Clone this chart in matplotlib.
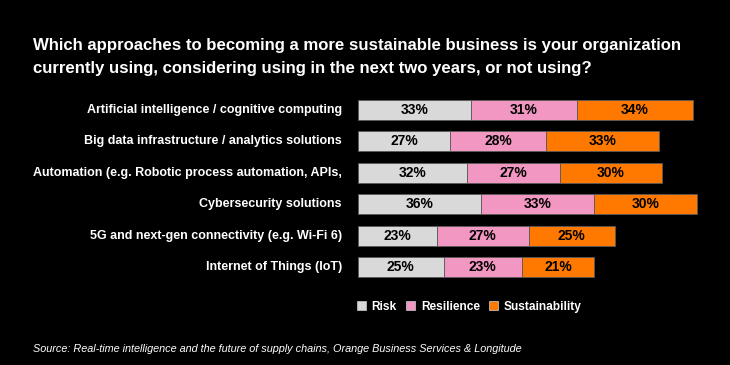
import matplotlib
matplotlib.use("Agg")
import matplotlib.pyplot as plt
import matplotlib.patches as mpatches
from matplotlib import font_manager

# data
categories = [
    "Artificial intelligence / cognitive computing",
    "Big data infrastructure / analytics solutions",
    "Automation (e.g. Robotic process automation, APIs,",
    "Cybersecurity solutions",
    "5G and next-gen connectivity (e.g. Wi-Fi 6)",
    "Internet of Things (IoT)",
]
risk = [33, 27, 32, 36, 23, 25]
resilience = [31, 28, 27, 33, 27, 23]
sustainability = [34, 33, 30, 30, 25, 21]
series_names = ["Risk", "Resilience", "Sustainability"]
colors = ["#d9d9d9", "#f297c1", "#ff7900"]

title = ("Which approaches to becoming a more sustainable business is your organization\n"
         "currently using, considering using in the next two years, or not using?")
source = ("Source: Real-time intelligence and the future of supply chains, "
          "Orange Business Services & Longitude")

names = {f.name for f in font_manager.fontManager.ttflist}
base = "Liberation Sans" if "Liberation Sans" in names else "DejaVu Sans"
plt.rcParams["font.family"] = [base, "DejaVu Sans"]

W, H = 730, 365
fig = plt.figure(figsize=(W / 100, H / 100), dpi=100, facecolor="black")
ax = fig.add_axes([358 / W, 1 - 283 / H, 342 / W, 189 / H])
ax.set_facecolor("black")

y = list(range(len(categories)))
left = [0] * len(categories)
for vals, col in zip([risk, resilience, sustainability], colors):
    ax.barh(y, vals, left=left, height=0.64, color=col,
            edgecolor="#5a5a5a", linewidth=0.6)
    for yi, l, v in zip(y, left, vals):
        ax.text(l + v / 2, yi, f"{v}%", ha="center", va="center",
                fontsize=10, fontweight="bold", color="black")
    left = [a + b for a, b in zip(left, vals)]

ax.set_xlim(0, 100)
ax.set_ylim(len(categories) - 0.5, -0.5)
ax.axis("off")

for yi, cat in zip(y, categories):
    ax.text(-4.7, yi, cat, ha="right", va="center", fontsize=9,
            fontweight="bold", color="white")

fig.text(33 / W, 1 - 57 / H, title, ha="left", va="center", fontsize=12.1,
         fontweight="bold", color="white", linespacing=1.6)

handles = [mpatches.Patch(facecolor=c, edgecolor="#bbbbbb", linewidth=0.6, label=n)
           for c, n in zip(colors, series_names)]
fig.legend(handles=handles, loc="center left", bbox_to_anchor=(346 / W, 1 - 307 / H),
           ncol=3, frameon=False, handlelength=0.8, handleheight=0.8,
           handletextpad=0.45, columnspacing=0.75, labelcolor="white",
           prop={"weight": "bold", "size": 8.6})

fig.text(33 / W, 1 - 349 / H, source, ha="left", va="center", fontsize=7.8,
         style="italic", color="white")

fig.savefig("out.png", dpi=100, facecolor="black")
